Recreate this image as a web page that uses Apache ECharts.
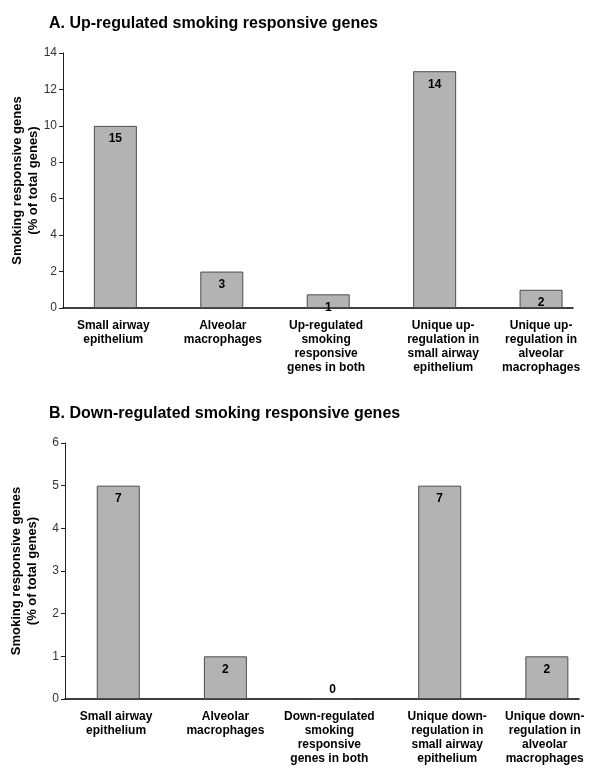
<!DOCTYPE html>
<html>
<head>
<meta charset="utf-8">
<script src="https://cdn.jsdelivr.net/npm/echarts@6/dist/echarts.min.js"></script>
<style>html,body{margin:0;padding:0;background:#fff}#c{width:600px;height:778px}</style>
</head>
<body>
<div id="c"></div>
<script>
// ---- data ----
const titleA = 'A. Up-regulated smoking responsive genes';
const titleB = 'B. Down-regulated smoking responsive genes';
const yAxisName = 'Smoking responsive genes\n(% of total genes)';
const categoriesA = ['Small airway\nepithelium', 'Alveolar\nmacrophages', 'Up-regulated\nsmoking\nresponsive\ngenes in both', 'Unique up-\nregulation in\nsmall airway\nepithelium', 'Unique up-\nregulation in\nalveolar\nmacrophages'];
const categoriesB = ['Small airway\nepithelium', 'Alveolar\nmacrophages', 'Down-regulated\nsmoking\nresponsive\ngenes in both', 'Unique down-\nregulation in\nsmall airway\nepithelium', 'Unique down-\nregulation in\nalveolar\nmacrophages'];
const percentA = [10, 2, 0.75, 13, 1];
const percentB = [5, 1, 0, 5, 1];
const countA = [15, 3, 1, 14, 2];
const countB = [7, 2, 0, 7, 2];
const ticksA = [0, 2, 4, 6, 8, 10, 12, 14];
const ticksB = [0, 1, 2, 3, 4, 5, 6];

// ---- layout helpers (not data): where category labels sit on the x scale ----
const labelPosA = [-0.02, 1.01, 1.98, 3.08, 4.0];
const labelPosB = [-0.02, 1.0, 1.97, 3.07, 3.98];

const FONT = 'Liberation Sans';

function series(values, counts, xi, barW) {
  return {
    type: 'bar', xAxisIndex: xi, yAxisIndex: xi, barWidth: barW,
    itemStyle: {color: '#b3b3b3', borderColor: '#4d4d4d', borderWidth: 1},
    label: {show: true, position: 'insideTop', distance: 7, fontFamily: FONT, fontWeight: 'bold', fontSize: 12, color: '#000',
      formatter: p => String(counts[p.dataIndex])},
    data: values.map((v, i) => v === 0
      ? {value: [i, v], label: {position: 'top', distance: 3}}
      : {value: [i, v]})
  };
}
function xAxis(gi, cats, pos, min, max) {
  return {
    type: 'value', gridIndex: gi, min: min, max: max,
    splitLine: {show: false},
    axisLine: {show: true, onZero: false, lineStyle: {color: '#000', width: 1.5}},
    axisTick: {show: false},
    axisLabel: {
      customValues: pos, margin: 11, fontFamily: FONT, fontWeight: 'bold', fontSize: 12, lineHeight: 14, color: '#000',
      formatter: v => { const k = pos.findIndex(p => Math.abs(p - v) < 1e-6); return k >= 0 ? cats[k] : ''; }
    }
  };
}
function yAxis(gi, ticks, gap) {
  return {
    type: 'value', gridIndex: gi, min: ticks[0], max: ticks[ticks.length - 1], interval: ticks[1] - ticks[0],
    splitLine: {show: false},
    axisLine: {show: true, onZero: false, lineStyle: {color: '#222', width: 1}},
    axisTick: {show: true, length: 4, lineStyle: {color: '#222'}},
    axisLabel: {margin: 6, fontFamily: FONT, fontSize: 12, color: '#333'},
    name: yAxisName, nameLocation: 'middle', nameGap: gap, nameRotate: 90, nameMoveOverlap: false,
    nameTextStyle: {fontFamily: FONT, fontWeight: 'bold', fontSize: 13, lineHeight: 16, color: '#000'}
  };
}

const chart = echarts.init(document.getElementById('c'));
chart.setOption({
  animation: false,
  backgroundColor: '#fff',
  title: [
    {text: titleA, left: 44, top: 11, textStyle: {fontFamily: FONT, fontWeight: 'bold', fontSize: 16, color: '#000'}},
    {text: titleB, left: 44, top: 401, textStyle: {fontFamily: FONT, fontWeight: 'bold', fontSize: 16, color: '#000'}}
  ],
  grid: [
    {left: 63, right: 27, top: 53, bottom: 470, outerBoundsMode: 'none', containLabel: false},
    {left: 65, right: 21, top: 443, bottom: 79, outerBoundsMode: 'none', containLabel: false}
  ],
  xAxis: [xAxis(0, categoriesA, labelPosA, -0.492, 4.30), xAxis(1, categoriesB, labelPosB, -0.497, 4.30)],
  yAxis: [yAxis(0, ticksA, 22), yAxis(1, ticksB, 25)],
  series: [series(percentA, countA, 0, 43), series(percentB, countB, 1, 43)]
});
</script>
</body>
</html>
